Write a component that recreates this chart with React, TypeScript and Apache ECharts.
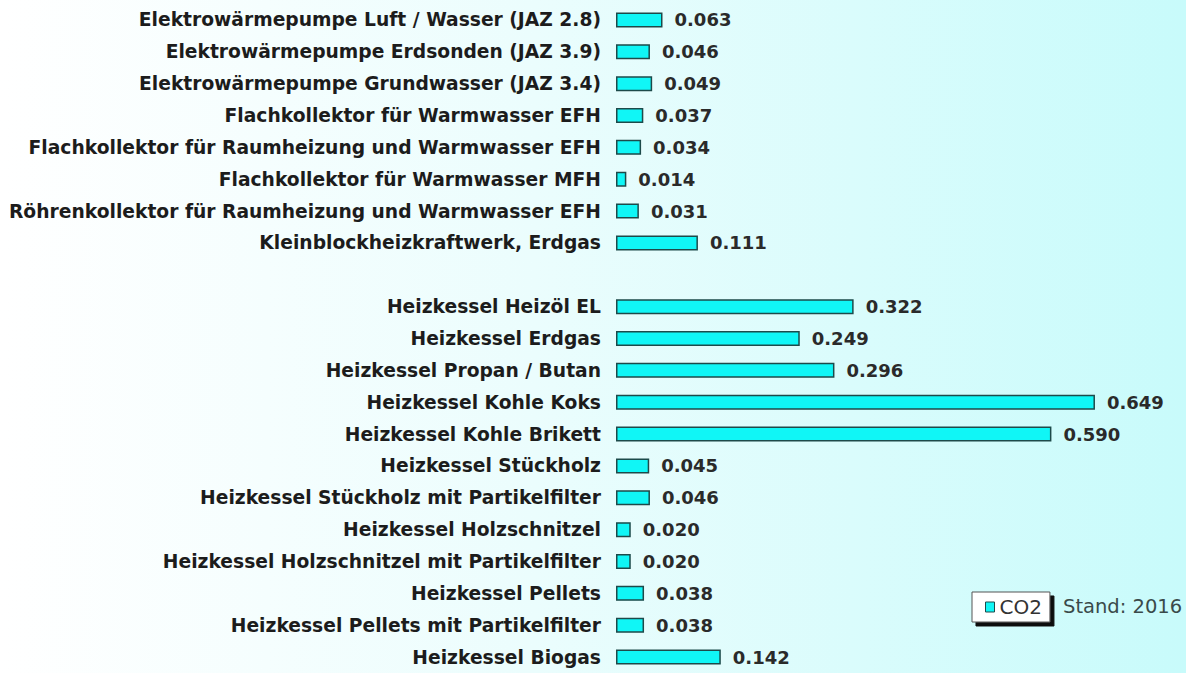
import React, { useEffect, useRef } from "react";
import * as echarts from "echarts";

const categories: string[] = [
  "Elektrowärmepumpe Luft / Wasser (JAZ 2.8)",
  "Elektrowärmepumpe Erdsonden (JAZ 3.9)",
  "Elektrowärmepumpe Grundwasser (JAZ 3.4)",
  "Flachkollektor für Warmwasser EFH",
  "Flachkollektor für Raumheizung und Warmwasser EFH",
  "Flachkollektor für Warmwasser MFH",
  "Röhrenkollektor für Raumheizung und Warmwasser EFH",
  "Kleinblockheizkraftwerk, Erdgas",
  "",
  "Heizkessel Heizöl EL",
  "Heizkessel Erdgas",
  "Heizkessel Propan / Butan",
  "Heizkessel Kohle Koks",
  "Heizkessel Kohle Brikett",
  "Heizkessel Stückholz",
  "Heizkessel Stückholz mit Partikelfilter",
  "Heizkessel Holzschnitzel",
  "Heizkessel Holzschnitzel mit Partikelfilter",
  "Heizkessel Pellets",
  "Heizkessel Pellets mit Partikelfilter",
  "Heizkessel Biogas",
];

const co2Values: (number | null)[] = [
  0.063, 0.046, 0.049, 0.037, 0.034, 0.014, 0.031, 0.111, null,
  0.322, 0.249, 0.296, 0.649, 0.59, 0.045, 0.046, 0.02, 0.02, 0.038, 0.038, 0.142,
];

const seriesName = "CO2";
const standText = "Stand: 2016";

export default function App() {
  const ref = useRef<HTMLDivElement>(null);
  useEffect(() => {
    document.body.style.margin = "0";
    if (!ref.current) return;
    const chart = echarts.init(ref.current, null, { renderer: "svg" });
    const font = "DejaVu Sans";
    chart.setOption({
      animation: false,
      backgroundColor: new echarts.graphic.LinearGradient(0, 0, 1, 0, [
        { offset: 0, color: "#ffffff" },
        { offset: 0.45, color: "#ebfdfd" },
        { offset: 1, color: "#c8fbfb" },
      ]),
      grid: { left: 616, top: 4, width: 553.5, height: 669 },
      xAxis: {
        type: "value",
        min: 0,
        max: 0.75,
        show: false,
      },
      yAxis: {
        type: "category",
        data: categories,
        inverse: true,
        axisLine: { show: false },
        axisTick: { show: false },
        splitLine: { show: false },
        axisLabel: {
          margin: 15,
          fontFamily: font,
          fontWeight: "bold",
          fontSize: 18.7,
          color: "#1c1c1c",
        },
      },
      legend: {
        data: [seriesName],
        left: 972,
        top: 592,
        itemWidth: 9,
        itemHeight: 10,
        itemGap: 0,
        padding: [5, 8, 5, 13],
        backgroundColor: "#ffffff",
        borderColor: "#555555",
        borderWidth: 1,
        shadowColor: "#111111",
        shadowOffsetX: 4,
        shadowOffsetY: 4,
        shadowBlur: 0,
        icon: "rect",
        itemStyle: { borderColor: "#1d4a4a", borderWidth: 1 },
        textStyle: { fontFamily: font, fontSize: 20, color: "#333333" },
      },
      graphic: [
        {
          type: "text",
          left: 1063,
          top: 596,
          style: {
            text: standText,
            font: `19.5px "${font}"`,
            fill: "#3a4a4a",
          },
        },
      ],
      series: [
        {
          name: seriesName,
          type: "bar",
          data: co2Values,
          barWidth: 15,
          itemStyle: {
            color: "#10f6f6",
            borderColor: "#1d4a4a",
            borderWidth: 1.5,
          },
          label: {
            show: true,
            position: "right",
            distance: 12,
            fontFamily: font,
            fontWeight: "bold",
            fontSize: 18,
            color: "#2a2a2a",
            formatter: (p: any) => (p.value == null ? "" : Number(p.value).toFixed(3)),
          },
        },
      ],
    });
    return () => chart.dispose();
  }, []);
  return <div ref={ref} style={{ width: 1186, height: 673 }} />;
}
